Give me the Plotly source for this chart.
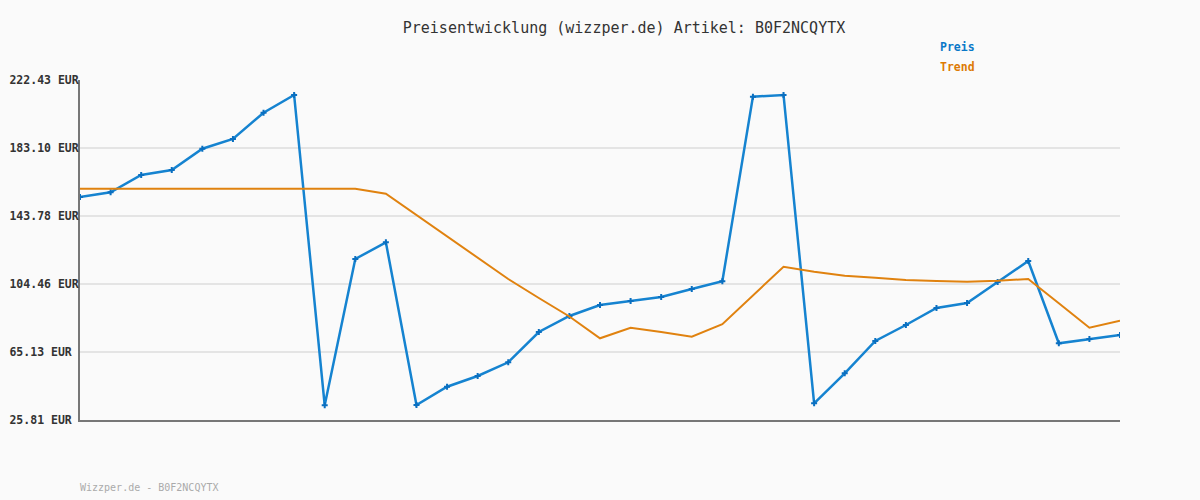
import plotly.graph_objects as go

# price history (EUR), one point per observation
preis = [154.77, 157.49, 167.49, 170.38, 182.70, 188.31, 203.52, 213.76, 34.30, 118.92,
         128.55, 34.48, 45.07, 51.25, 59.17, 76.70, 85.95, 92.31, 94.62, 96.94,
         101.57, 106.02, 212.80, 213.76, 35.47, 52.81, 71.50, 80.75, 90.58, 93.47,
         105.61, 117.76, 70.16, 72.65, 74.96]

trend = [159.57, 159.57, 159.57, 159.57, 159.57, 159.57, 159.57, 159.57, 159.57, 159.57,
         156.68, 144.36, 131.64, 119.20, 107.35, 96.36, 85.66, 73.05, 79.19, 76.70,
         74.00, 81.21, 97.81, 114.46, 111.57, 109.26, 108.10, 106.77, 106.19, 105.79,
         106.37, 107.35, 93.30, 79.19, 83.24]

y_ticks = [25.81, 65.13, 104.46, 143.78, 183.10, 222.43]
y_labels = ["25.81 EUR\u00a0", "65.13 EUR\u00a0", "104.46 EUR", "143.78 EUR",
            "183.10 EUR", "222.43 EUR"]

artikel = "B0F2NCQYTX"
mono = "DejaVu Sans Mono"
blue = "#1583d0"
orange = "#e0820f"

x = list(range(len(preis)))

fig = go.Figure()
fig.add_trace(go.Scatter(x=x, y=preis, mode="lines+markers", name="Preis",
                         line=dict(color=blue, width=2.5),
                         marker=dict(symbol="cross", size=5, color="#0a6fc0")))
fig.add_trace(go.Scatter(x=x, y=trend, mode="lines", name="Trend",
                         line=dict(color=orange, width=2)))

fig.update_layout(
    width=1200, height=500,
    margin=dict(l=80, r=80, t=80, b=80),
    paper_bgcolor="#fafafa", plot_bgcolor="#fafafa",
    showlegend=False,
    title=dict(text="Preisentwicklung (wizzper.de) Artikel: " + artikel,
               x=0.52, xanchor="center", y=0.944, yanchor="middle",
               font=dict(family=mono, size=15, color="#333333")),
)
fig.update_xaxes(range=[0, len(preis) - 1], showgrid=False, zeroline=False,
                 showticklabels=False, ticks="", showline=True, automargin=False,
                 linecolor="#777777", linewidth=2)
fig.update_yaxes(range=[y_ticks[0], y_ticks[-1]], tickvals=y_ticks, ticktext=y_labels,
                 showgrid=True, gridcolor="#e4e4e4", gridwidth=2, zeroline=False,
                 ticks="", showline=True, linecolor="#777777", linewidth=2,
                 ticklabelstandoff=-3, automargin=False,
                 tickfont=dict(family=mono, size=11.5, color="#333333", weight="bold"))

# legend as coloured labels, top right
fig.add_annotation(text="<b>Preis</b>", xref="paper", yref="paper", x=0.827, y=1.0,
                   xshift=-2, yshift=33, xanchor="left", yanchor="middle", showarrow=False,
                   font=dict(family=mono, size=11.5, color="#0a78c8"))
fig.add_annotation(text="<b>Trend</b>", xref="paper", yref="paper", x=0.827, y=1.0,
                   xshift=-2, yshift=13, xanchor="left", yanchor="middle", showarrow=False,
                   font=dict(family=mono, size=11.5, color="#dd7a05"))
fig.add_annotation(text="Wizzper.de - " + artikel, xref="paper", yref="paper", x=0, y=0,
                   xshift=-2, yshift=-67, xanchor="left", yanchor="middle", showarrow=False,
                   font=dict(family=mono, size=10, color="#aaaaaa"))

fig.write_html("out.html", config={"displayModeBar": False},
               post_script="document.body.style.margin='0';"
                           "document.body.style.background='#fafafa';")
